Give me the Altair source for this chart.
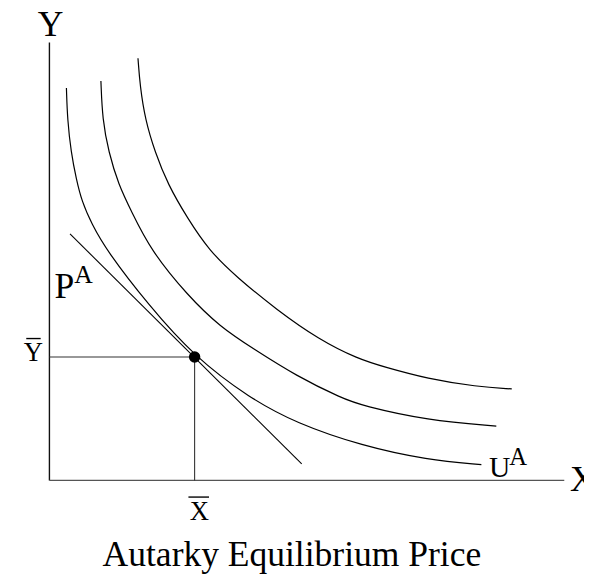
import altair as alt
import pandas as pd

# Indifference curves (x, y), axes 0..10
u1_x = [0.33, 0.35, 0.42, 0.52, 0.63, 0.82, 1.11, 1.92, 2.82, 3.89, 4.79, 6.07, 7.34, 8.39]
u1_y = [8.96, 8.24, 7.50, 6.89, 6.37, 5.86, 5.25, 4.01, 2.82, 1.88, 1.31, 0.79, 0.47, 0.36]
u2_x = [1.00, 1.03, 1.15, 1.34, 1.59, 1.97, 2.68, 3.31, 3.97, 4.79, 5.69, 6.07, 7.34, 8.68]
u2_y = [9.12, 8.24, 7.50, 6.76, 6.15, 5.25, 4.23, 3.51, 3.00, 2.39, 1.87, 1.71, 1.37, 1.24]
u3_x = [1.72, 1.76, 1.86, 2.05, 2.30, 2.68, 3.10, 3.64, 4.41, 5.23, 6.00, 6.51, 7.34, 8.30, 8.98]
u3_y = [9.64, 9.01, 8.24, 7.50, 6.76, 5.99, 5.25, 4.64, 3.90, 3.22, 2.77, 2.59, 2.32, 2.14, 2.09]

# Autarky price line
p_x = [0.40, 4.90]
p_y = [5.63, 0.38]

# Equilibrium
x_bar = 2.82
y_bar = 2.82

# Axis lengths
axis_max = 10.0

FONT = "'Liberation Serif', 'Times New Roman', Times, serif"

curves = pd.concat([
    pd.DataFrame({"x": u1_x, "y": u1_y, "c": "u1", "o": range(len(u1_x))}),
    pd.DataFrame({"x": u2_x, "y": u2_y, "c": "u2", "o": range(len(u2_x))}),
    pd.DataFrame({"x": u3_x, "y": u3_y, "c": "u3", "o": range(len(u3_x))}),
])

xs = alt.Scale(domain=[0, axis_max], nice=False, zero=False)
ys = alt.Scale(domain=[0, axis_max], nice=False, zero=False)

def X(f="x"):
    return alt.X(f"{f}:Q", scale=xs, axis=None)

def Y(f="y"):
    return alt.Y(f"{f}:Q", scale=ys, axis=None)

curve_layer = alt.Chart(curves).mark_line(
    color="black", strokeWidth=1.2, interpolate="basis", clip=False
).encode(x=X(), y=Y(), detail="c:N", order="o:Q")

price = alt.Chart(pd.DataFrame({"x": p_x, "y": p_y})).mark_line(
    color="black", strokeWidth=1.1, clip=False
).encode(x=X(), y=Y())

axes_df = pd.DataFrame({
    "x": [0, 0], "y": [0, 0], "x2": [0, axis_max], "y2": [axis_max, 0],
    "col": ["#111", "#555"]
})
axes = alt.Chart(axes_df).mark_rule(strokeWidth=1.4, clip=False).encode(
    x=X(), y=Y(), x2="x2:Q", y2="y2:Q", color=alt.Color("col:N", scale=None, legend=None)
)

guides_df = pd.DataFrame({
    "x": [0, x_bar], "y": [y_bar, 0], "x2": [x_bar, x_bar], "y2": [y_bar, y_bar]
})
guides = alt.Chart(guides_df).mark_rule(color="#333", strokeWidth=1.1, clip=False).encode(
    x=X(), y=Y(), x2="x2:Q", y2="y2:Q"
)

# overbars of the X-bar / Y-bar labels
bars_df = pd.DataFrame({
    "x": [-0.45, 2.70], "x2": [-0.17, 3.10], "y": [3.24, -0.38]
})
bars = alt.Chart(bars_df).mark_rule(color="black", strokeWidth=1.4, clip=False).encode(
    x=X(), x2="x2:Q", y=Y()
)

dot = alt.Chart(pd.DataFrame({"x": [x_bar], "y": [y_bar]})).mark_circle(
    color="black", size=135, opacity=1, clip=False
).encode(x=X(), y=Y())

labels = pd.DataFrame([
    {"x": 0.02, "y": 10.14, "t": "Y", "s": 36, "a": "center"},
    {"x": 10.11, "y": -0.23, "t": "X", "s": 36, "a": "left"},
    {"x": -0.31, "y": 2.73, "t": "Y", "s": 27, "a": "center"},
    {"x": 2.91, "y": -0.90, "t": "X", "s": 27, "a": "center"},
    {"x": 0.10, "y": 4.17, "t": "P", "s": 36, "a": "left"},
    {"x": 0.48, "y": 4.50, "t": "A", "s": 26, "a": "left"},
    {"x": 8.54, "y": 0.07, "t": "U", "s": 30, "a": "left"},
    {"x": 8.93, "y": 0.36, "t": "A", "s": 25, "a": "left"},
    {"x": 4.71, "y": -1.96, "t": "Autarky Equilibrium Price", "s": 36, "a": "center"},
])

text_layers = []
for a in ["left", "center"]:
    sub = labels[labels["a"] == a]
    text_layers.append(
        alt.Chart(sub).mark_text(font=FONT, align=a, baseline="alphabetic", color="black", clip=False)
        .encode(x=X(), y=Y(), text="t:N", size=alt.Size("s:Q", scale=None, legend=None))
    )

chart = alt.layer(axes, guides, curve_layer, price, dot, bars, *text_layers).properties(
    width=522,
    height=444,
    padding={"left": 42, "top": 31, "right": 20, "bottom": 100},
    autosize=alt.AutoSizeParams(type="none"),
).configure_view(stroke=None)

chart.save("out.html", embed_options={"renderer": "svg", "actions": False})
